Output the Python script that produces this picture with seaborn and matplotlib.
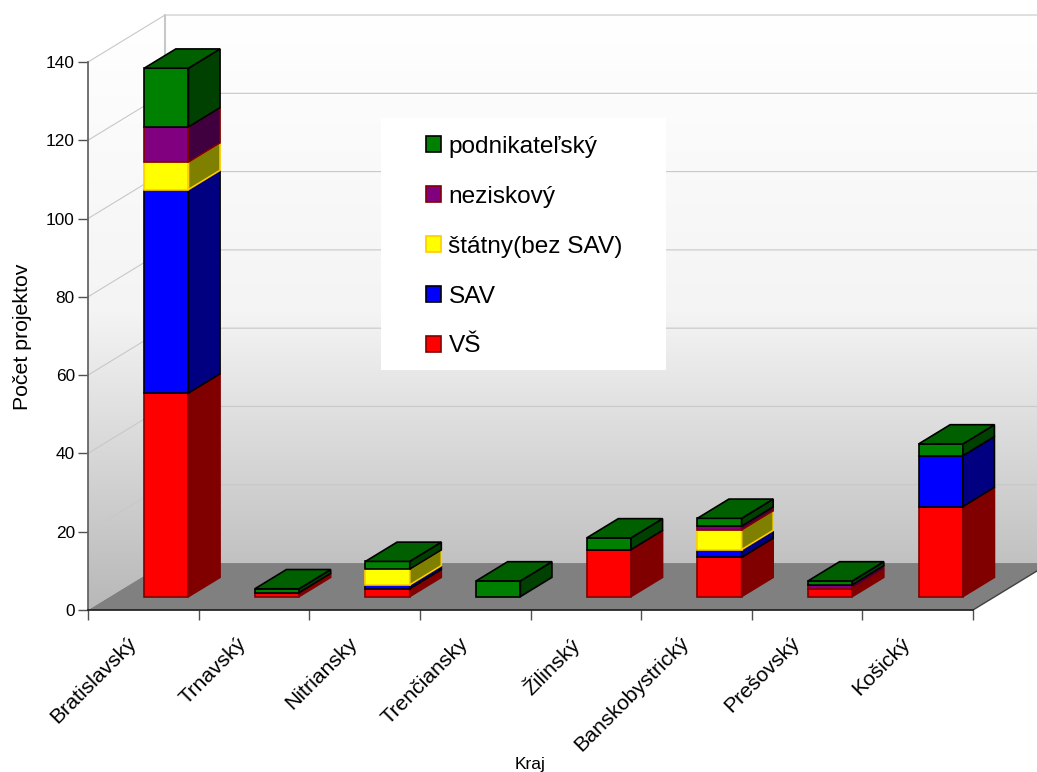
import numpy as np
import matplotlib
matplotlib.use("Agg")
import matplotlib.pyplot as plt
from matplotlib.colors import LinearSegmentedColormap, to_rgb
from matplotlib.patches import Patch, Polygon, Rectangle
from matplotlib.transforms import ScaledTranslation
import seaborn as sns

kraje = ["Bratislavský", "Trnavský", "Nitriansky", "Trenčiansky", "Žilinský",
         "Banskobystrický", "Prešovský", "Košický"]
vs = [52, 1, 2, 0, 12, 10, 2, 23]
sav = [52, 0, 1, 0, 0, 2, 0, 13]
statny = [7, 0, 4, 0, 0, 5, 0, 0]
neziskovy = [9, 0, 0, 0, 0, 1, 1, 0]
podnikatelsky = [15, 1, 2, 4, 3, 2, 1, 3]

series = [("VŠ", vs, "#ff0000", "#800000"),
          ("SAV", sav, "#0000ff", "#000000"),
          ("štátny(bez SAV)", statny, "#ffff00", "#ffcc00"),
          ("neziskový", neziskovy, "#800080", "#800000"),
          ("podnikateľský", podnikatelsky, "#008000", "#000000")]
y_ticks = [0, 20, 40, 60, 80, 100, 120, 140]

sns.set_theme(style="white", font="Liberation Sans")

W, H = 1037, 772
fig = plt.figure(figsize=(W / 100, H / 100), dpi=100, facecolor="white")
ax = fig.add_axes([88 / W, (H - 610) / H, 885 / W, 548 / H])

# depth of the fake 3d box in data units
DX = 0.696
DY = 12.0
BAR_WIDTH = 0.4
F0 = 0.285
F1 = 0.695
X0 = F0 * DX + 0.01


def depth(x, y, f):
    return (x + f * DX, y + f * DY)


def darker(col, k):
    return tuple(c * k for c in to_rgb(col))


# walls
grad = LinearSegmentedColormap.from_list("wall", ["#ffffff", "#f4f4f4", "#b8b8b8"])
im = ax.imshow(np.linspace(0, 1, 256).reshape(-1, 1), cmap=grad, aspect="auto",
               origin="upper", extent=(-0.5, 8.3, 0, 152), zorder=0)
wall = Polygon([(-0.5, 0), (-0.5, 140), depth(-0.5, 140, 1), (8.3, 152), (8.3, 12), depth(-0.5, 0, 1)],
               transform=ax.transData, facecolor="none", edgecolor="none")
ax.add_patch(wall)
im.set_clip_path(wall)
im.set_clip_box(fig.bbox)

grid_col = "#c8c8c8"
for t in y_ticks[1:]:
    ax.plot(*zip((-0.5, t), depth(-0.5, t, 1), (8.3, t + DY)), color=grid_col, lw=0.8, zorder=1, clip_on=False)
ax.plot(*zip(depth(-0.5, 0, 1), depth(-0.5, 140, 1)), color=grid_col, lw=1.5, zorder=1, clip_on=False)

ax.add_patch(Polygon([(-0.5, 0), (7.5, 0), depth(7.5, 0, 1), depth(-0.5, 0, 1)],
                     facecolor="#808080", edgecolor="none", zorder=2, clip_on=False))
ax.plot(*zip((7.5, 0), depth(7.5, 0, 1)), color="#404040", lw=1, zorder=2, clip_on=False)

# bars
base = F0 * DY
cum = np.zeros(len(kraje))
positions = np.arange(len(kraje)) + X0
for name, vals, col, edge in series:
    vals = np.array(vals, dtype=float)
    keep = vals > 0
    # native_scale takes the width relative to the smallest gap in what it gets
    gaps = np.diff(positions[keep])
    gap = gaps.min() if len(gaps) else 1
    sns.barplot(x=positions[keep], y=vals[keep], bottom=base + cum[keep], native_scale=True,
                width=BAR_WIDTH / gap, color=col, saturation=1, errorbar=None, edgecolor=edge,
                linewidth=1.2, zorder=3, ax=ax, clip_on=False)
    for i in np.where(keep)[0]:
        x1 = i + BAR_WIDTH / 2 + X0
        y0 = base + cum[i]
        y1 = y0 + vals[i]
        d = (F1 - F0)
        ax.add_patch(Polygon([(x1, y0), (x1, y1), (x1 + d * DX, y1 + d * DY), (x1 + d * DX, y0 + d * DY)],
                             facecolor=darker(col, 0.5), edgecolor=edge, lw=1.2, zorder=3, clip_on=False))
    cum += vals

# cap on each stack, coloured by the top segment
for i in range(len(kraje)):
    top = [s for s in series if s[1][i] > 0][-1]
    x0 = i - BAR_WIDTH / 2 + X0
    x1 = x0 + BAR_WIDTH
    y = base + cum[i]
    d = F1 - F0
    ax.add_patch(Polygon([(x0, y), (x1, y), (x1 + d * DX, y + d * DY), (x0 + d * DX, y + d * DY)],
                         facecolor=darker(top[2], 0.75), edgecolor=top[3], lw=1.2, zorder=4, clip_on=False))

ax.set_xlim(-0.5, 7.5)
ax.set_ylim(0, 140)
ax.patch.set_visible(False)
for s in ["top", "right"]:
    ax.spines[s].set_visible(False)
ax.spines["left"].set_color("#606060")
ax.spines["bottom"].set_color("#202020")
ax.spines["left"].set_zorder(5)
ax.spines["bottom"].set_zorder(5)

ax.set_yticks(y_ticks)
ax.set_xticks(np.arange(-0.5, 8, 1))
ax.set_xticklabels([])
ax.set_xticks(np.arange(len(kraje)), labels=kraje, minor=True)
ax.tick_params(axis="y", left=True, length=7.5, width=1, color="#505050", labelsize=12.4, labelcolor="black", pad=2)
ax.tick_params(axis="x", which="major", bottom=True, length=7.5, width=1, color="#505050")
ax.tick_params(axis="x", which="minor", bottom=False, length=0, labelsize=15.3, labelcolor="black", pad=17)
shift = ScaledTranslation(-17 / 100, 0, fig.dpi_scale_trans)
for lab in ax.get_xticklabels(minor=True):
    lab.set_rotation(45)
    lab.set_ha("right")
    lab.set_va("top")
    lab.set_rotation_mode("anchor")
    lab.set_transform(lab.get_transform() + shift)

ax.set_ylabel("Počet projektov", fontsize=15.3, color="black", va="center")
ax.yaxis.set_label_coords((23 - 88) / 885, (610 - 337) / 548)
ax.set_xlabel("Kraj", fontsize=12.5, color="black", va="center")
ax.xaxis.set_label_coords((530 - 88) / 885, -(764 - 610) / 548)

# legend box
fig.add_artist(Rectangle((381 / W, (H - 370) / H), 285 / W, 252 / H, transform=fig.transFigure,
                         facecolor="white", edgecolor="none", zorder=6))
handles = [Patch(facecolor=c, edgecolor=e, lw=1.2) for _, _, c, e in reversed(series)]
labels = [s[0] for s in reversed(series)]
leg = fig.legend(handles, labels, loc="upper left", bbox_to_anchor=(426 / W, (H - 136) / H), frameon=False,
                 fontsize=17.6, handlelength=0.62, handleheight=0.62, handletextpad=0.3, labelspacing=1.14,
                 borderpad=0, borderaxespad=0, labelcolor="black")
leg.set_zorder(7)

fig.savefig("out.png", dpi=100)
